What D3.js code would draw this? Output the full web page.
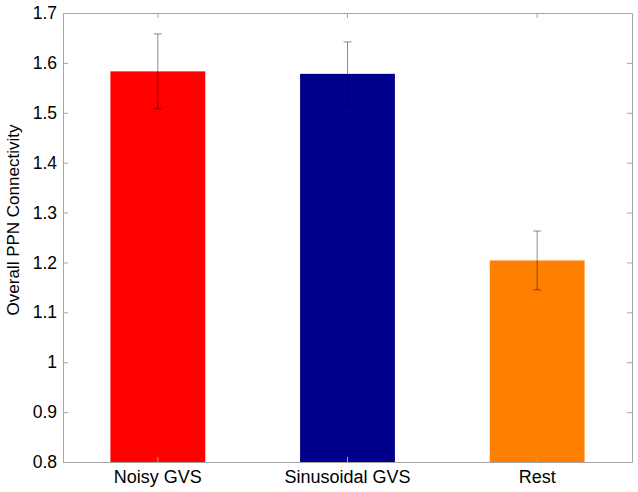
<!DOCTYPE html>
<html><head><meta charset="utf-8">
<script src="https://cdn.jsdelivr.net/npm/d3@7"></script>
<style>body{margin:0;background:#fff}svg{display:block}text{font-family:Arial,"Liberation Sans",sans-serif}</style>
</head><body>
<script>
const categories = ["Noisy GVS", "Sinusoidal GVS", "Rest"];
const means = [1.583, 1.578, 1.204];
const errors = [0.075, 0.064, 0.059];
const colors = ["#ff0000", "#00008c", "#ff8000"];
const yTicks = [0.8, 0.9, 1.0, 1.1, 1.2, 1.3, 1.4, 1.5, 1.6, 1.7];
const yTickLabels = ["0.8", "0.9", "1", "1.1", "1.2", "1.3", "1.4", "1.5", "1.6", "1.7"];
const yLabel = "Overall PPN Connectivity";

const W = 638, H = 492;
const m = {left: 63, right: 6, top: 13, bottom: 30};
const pw = W - m.left - m.right, ph = H - m.top - m.bottom;

const svg = d3.select("body").append("svg").attr("width", W).attr("height", H);
const g = svg.append("g").attr("transform", `translate(${m.left},${m.top})`);

const x = d3.scaleBand().domain(categories).range([0, pw]).paddingInner(0.5).paddingOuter(0.25);
const y = d3.scaleLinear().domain([0.8, 1.7]).range([ph, 0]);

const axisColor = "#a6a6a6";
const tl = 5;

// bars
g.selectAll("rect.bar").data(categories).join("rect")
  .attr("x", d => x(d)).attr("width", x.bandwidth())
  .attr("y", (d, i) => y(means[i])).attr("height", (d, i) => ph - y(means[i]))
  .attr("fill", (d, i) => colors[i]);

// error bars
const cap = 4;
categories.forEach((c, i) => {
  const cx = x(c) + x.bandwidth() / 2;
  const eg = g.append("g").attr("stroke", "#000").attr("stroke-opacity", 0.45).attr("stroke-width", 1);
  eg.append("line").attr("x1", cx).attr("x2", cx).attr("y1", y(means[i] + errors[i])).attr("y2", y(means[i] - errors[i]));
  eg.append("line").attr("x1", cx - cap).attr("x2", cx + cap).attr("y1", y(means[i] + errors[i])).attr("y2", y(means[i] + errors[i]));
  eg.append("line").attr("x1", cx - cap).attr("x2", cx + cap).attr("y1", y(means[i] - errors[i])).attr("y2", y(means[i] - errors[i]));
});

// axes
const fmt = v => yTickLabels[yTicks.indexOf(v)];
const yAxisL = d3.axisLeft(y).tickValues(yTicks).tickFormat(fmt).tickSizeInner(-tl).tickSizeOuter(0).tickPadding(6);
const yAxisR = d3.axisRight(y).tickValues(yTicks).tickFormat("").tickSizeInner(-tl).tickSizeOuter(0);
const xAxisB = d3.axisBottom(x).tickSizeInner(-tl).tickSizeOuter(0).tickPadding(8);
const xAxisT = d3.axisTop(x).tickFormat("").tickSizeInner(-tl).tickSizeOuter(0);

function style(sel, fs) {
  sel.selectAll("path,line").attr("stroke", axisColor);
  sel.selectAll("text").attr("fill", "#000").attr("font-size", fs);
}
g.append("g").call(yAxisL).call(style, 17.5);
g.append("g").attr("transform", `translate(${pw},0)`).call(yAxisR).call(style, 17);
g.append("g").attr("transform", `translate(0,${ph})`).call(xAxisB).call(style, 18);
g.append("g").call(xAxisT).call(style, 17);

svg.append("text")
  .attr("transform", `translate(19,220) rotate(-90)`)
  .attr("text-anchor", "middle").attr("font-size", 17).attr("fill", "#000")
  .text(yLabel);
</script>
</body></html>
